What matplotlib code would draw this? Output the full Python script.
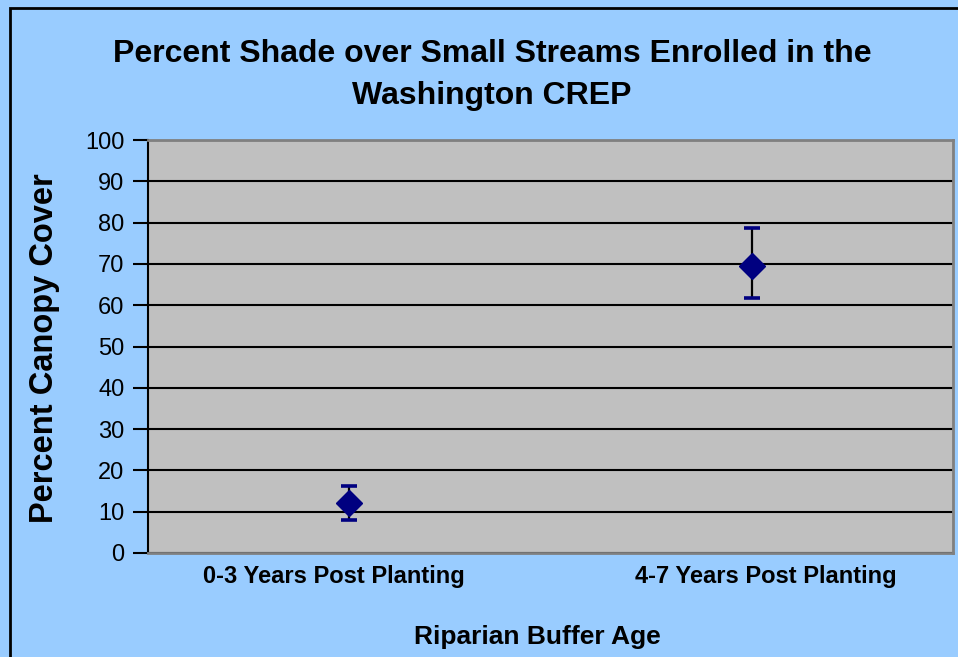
import matplotlib.pyplot as plt
from matplotlib.patches import Rectangle

plt.rcParams['font.family'] = ['Liberation Sans', 'DejaVu Sans']

categories = ["0-3 Years Post Planting", "4-7 Years Post Planting"]
canopy = [12.2, 69.5]
err_low = [4.2, 7.8]
err_high = [4.1, 9.2]

fig = plt.figure(figsize=(9.58, 6.57), dpi=100, facecolor="#99CCFF")
ax = fig.add_axes([0.1545, 0.1583, 0.8403, 0.6286])
ax.set_facecolor("#C0C0C0")

# outer chart border (left and top edges visible)
fig.patches.append(Rectangle((9.5 / 958, -0.1), 1.2, 1 - 7.5 / 657 + 0.1,
                             transform=fig.transFigure, fill=False,
                             edgecolor="black", linewidth=2, zorder=0))

x = [0.5, 1.5]
eb = ax.errorbar(x, canopy, yerr=[err_low, err_high], fmt="D", color="#000080",
                 markersize=13, ecolor="black", elinewidth=1.6, capsize=6,
                 capthick=2.6, zorder=5)
for cap in eb[1]:
    cap.set_markeredgecolor("#000080")
    cap.set_color("#000080")

ax.set_xlim(0, 2)
ax.set_ylim(0, 100)
ax.set_yticks(range(0, 101, 10))
ax.yaxis.grid(True, color="black", linewidth=1.5)
ax.set_axisbelow(True)
# category labels sit a little apart from the points, as in the original
ax.set_xticks([0.461, 1.534])
ax.set_xticklabels(categories, fontsize=17, fontweight="bold")
ax.tick_params(axis="x", length=0, pad=9)
ax.tick_params(axis="y", direction="out", length=11, width=1.5, labelsize=17, pad=6)

for side in ["top", "right", "bottom"]:
    ax.spines[side].set_color("#808080")
    ax.spines[side].set_linewidth(2)
ax.spines["left"].set_color("black")
ax.spines["left"].set_linewidth(1.5)

ax.set_ylabel("Percent Canopy Cover", fontsize=23.5, fontweight="bold")
ax.yaxis.set_label_coords(-0.128, 0.495)
ax.set_xlabel("Riparian Buffer Age", fontsize=19, fontweight="bold")
ax.xaxis.set_label_coords(0.484, -0.203)
ax.xaxis.label.set_va("center")
ax.yaxis.label.set_va("center")

fig.text(492 / 958, 1 - 75 / 657,
         "Percent Shade over Small Streams Enrolled in the\nWashington CREP",
         ha="center", va="center", fontsize=23, fontweight="bold", linespacing=1.5)

fig.savefig("out.png", dpi=100, facecolor=fig.get_facecolor())
